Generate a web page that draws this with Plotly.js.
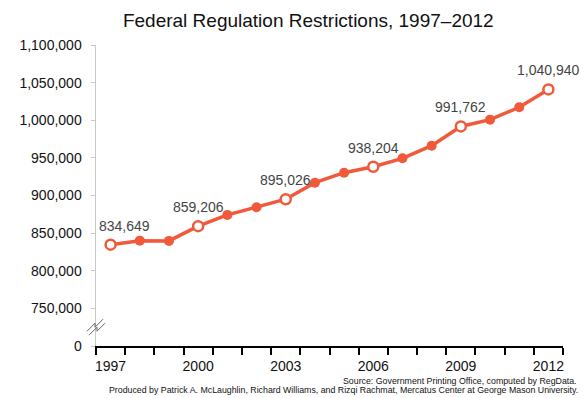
<!DOCTYPE html>
<html>
<head>
<meta charset="utf-8">
<script src="https://cdn.plot.ly/plotly-3.0.1.min.js"></script>
<style>html,body{margin:0;padding:0;background:#fff;}#chart{width:585px;height:398px;}</style>
</head>
<body>
<div id="chart"></div>
<script>
const years = [1997,1998,1999,2000,2001,2002,2003,2004,2005,2006,2007,2008,2009,2010,2011,2012];
const restrictions = [834649,840000,839700,859206,874200,884300,895026,917000,930300,938204,949400,966200,991762,1000800,1017200,1040940];
const labeledYears = [1997,2000,2003,2006,2009,2012];
const yTickVals = [700000,750000,800000,850000,900000,950000,1000000,1050000,1100000];
const yTickText = ['0','750,000','800,000','850,000','900,000','950,000','1,000,000','1,050,000','1,100,000'];
const xLabelYears = [1997,2000,2003,2006,2009,2012];

const orange = '#f05a3a';
const font = 'Liberation Sans, Arial, sans-serif';
const isLab = years.map(y => labeledYears.includes(y));
const boundaries = years.concat([years[years.length-1]+1]).map(y => y - 0.5);
const labX = years.filter((y, i) => isLab[i]);
const labY = restrictions.filter((v, i) => isLab[i]);

const trace = {
  x: years, y: restrictions, type: 'scatter', mode: 'lines+markers',
  line: {color: orange, width: 3.5},
  marker: {size: 10, color: orange},
  hoverinfo: 'skip', showlegend: false
};
const openPts = {
  x: labX, y: labY, type: 'scatter', mode: 'markers',
  marker: {size: 10, color: '#ffffff', line: {color: orange, width: 2.5}},
  hoverinfo: 'skip', showlegend: false
};
const dummy = {x: [years[0]], y: [restrictions[0]], xaxis: 'x2', mode: 'markers', marker: {opacity: 0}, showlegend: false, hoverinfo: 'skip'};

const fmt = v => v.toLocaleString('en-US');
const annotations = labX.map((x, k) => ({
  x, y: labY[k], xref: 'x', yref: 'y', text: fmt(labY[k]),
  showarrow: false, yshift: 19, xshift: k === 0 ? 14 : 0,
  font: {family: font, size: 14, color: '#444'}
}));
annotations.push({xref: 'paper', yref: 'paper', x: 1.034, y: -0.117, xanchor: 'right', yanchor: 'middle',
  text: 'Source: Government Printing Office, computed by RegData.', showarrow: false,
  font: {family: font, size: 8.8, color: '#111'}});
annotations.push({xref: 'paper', yref: 'paper', x: 1.036, y: -0.147, xanchor: 'right', yanchor: 'middle',
  text: 'Produced by Patrick A. McLaughlin, Richard Williams, and Rizqi Rachmat, Mercatus Center at George Mason University.', showarrow: false,
  font: {family: font, size: 8.8, color: '#111'}});

const layout = {
  width: 585, height: 398,
  margin: {l: 96, r: 22, t: 45, b: 52},
  paper_bgcolor: '#fff', plot_bgcolor: '#fff',
  title: {text: 'Federal Regulation Restrictions, 1997\u20132012', x: 0.527, xanchor: 'center', y: 0.95, yanchor: 'middle',
    font: {family: font, size: 19, color: '#111'}},
  xaxis: {range: [1996.5, 2012.5], showgrid: false, zeroline: false, showline: true, linecolor: '#000', linewidth: 2,
    ticks: 'outside', ticklen: 7, tickwidth: 2, tickcolor: '#000', tickvals: boundaries, showticklabels: false, fixedrange: true},
  xaxis2: {overlaying: 'x', anchor: 'y', side: 'bottom', range: [1996.5, 2012.5], showgrid: false, zeroline: false, showline: false,
    ticks: '', tickvals: xLabelYears, ticktext: xLabelYears.map(String), ticklabelstandoff: 10,
    tickfont: {family: font, size: 14, color: '#111'}},
  yaxis: {range: [700000, 1100000], showgrid: false, zeroline: false, showline: true, linecolor: '#c8c8c8', linewidth: 1.5,
    ticks: 'outside', ticklen: 4, tickcolor: '#c8c8c8', tickvals: yTickVals, ticktext: yTickText, ticklabelstandoff: 6,
    tickfont: {family: font, size: 14, color: '#111'}},
  shapes: [
    {type: 'path', xref: 'paper', yref: 'y', xsizemode: 'pixel', ysizemode: 'pixel', xanchor: 0, yanchor: 725000,
      path: 'M -9,-4 L -1,4 L -1,0 L 7,8', line: {color: '#666', width: 1}},
    {type: 'path', xref: 'paper', yref: 'y', xsizemode: 'pixel', ysizemode: 'pixel', xanchor: 0, yanchor: 725000,
      path: 'M -7,-8 L 1,0 L 1,-4 L 9,4', line: {color: '#666', width: 1}}
  ],
  annotations
};
Plotly.newPlot('chart', [trace, openPts, dummy], layout, {displayModeBar: false, staticPlot: true});
</script>
</body>
</html>
